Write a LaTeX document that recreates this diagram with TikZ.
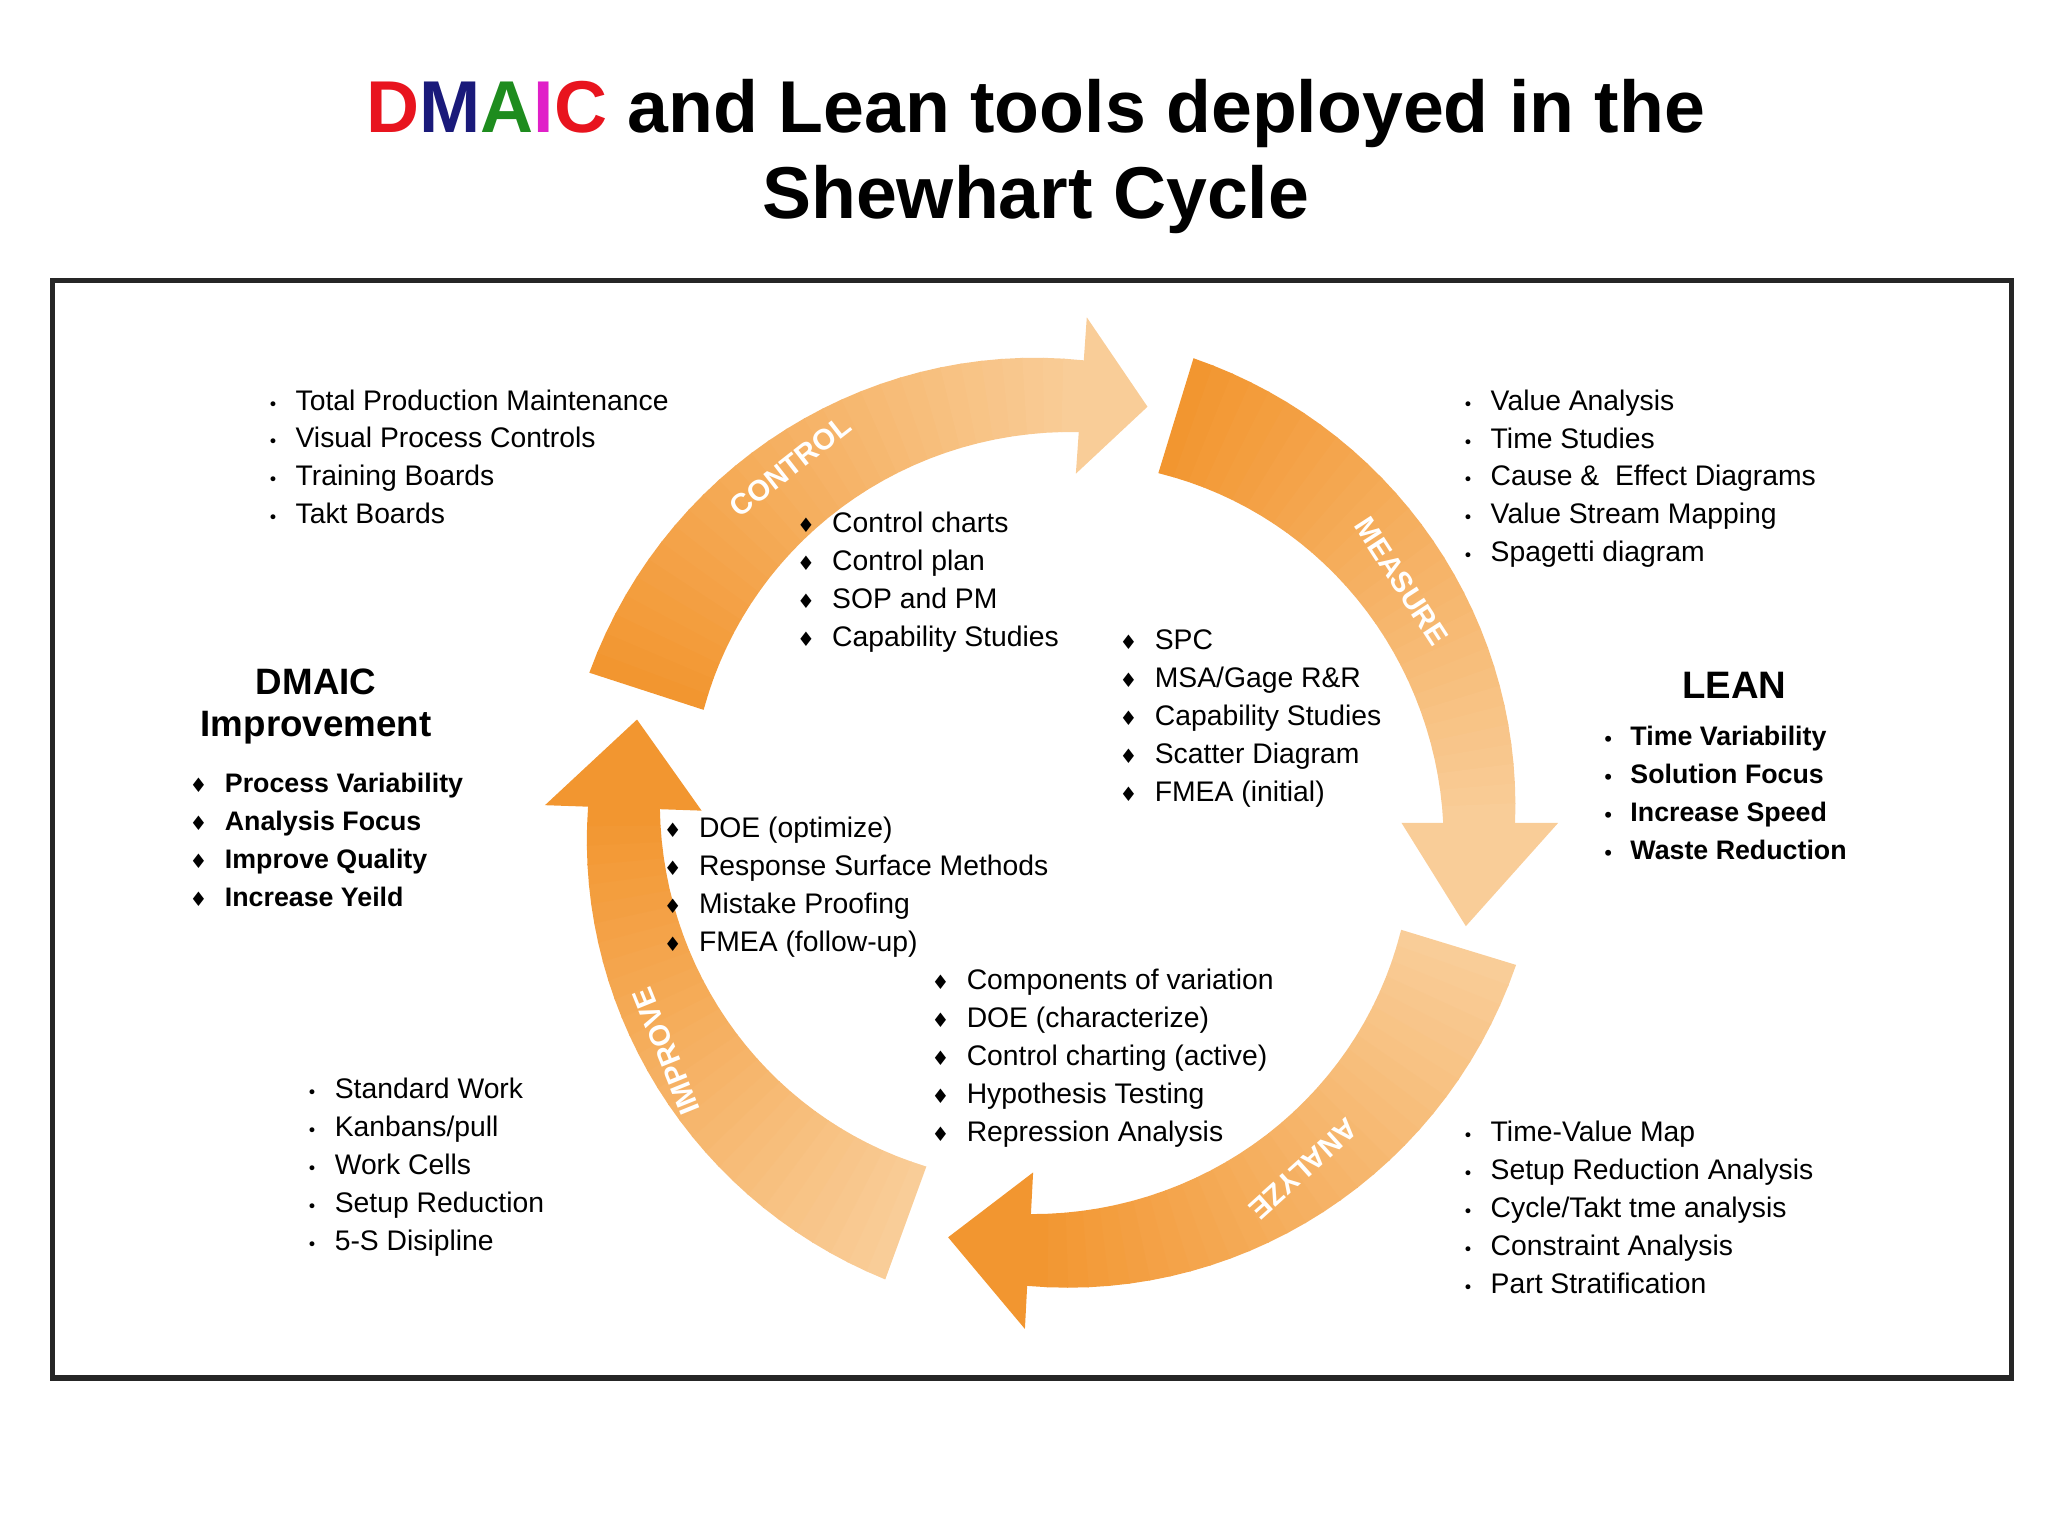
\documentclass[tikz,border=0pt]{standalone}
\usepackage{fontspec}
\setmainfont{Liberation Sans}
\newfontfamily\djv{DejaVu Sans}
\usetikzlibrary{calc}
\definecolor{odark}{HTML}{F29630}
\definecolor{olight}{HTML}{F9CD98}
\definecolor{tred}{HTML}{E8141E}
\definecolor{tnavy}{HTML}{1A1A7A}
\definecolor{tgreen}{HTML}{1E8C1E}
\definecolor{tmag}{HTML}{E020C8}
\newcommand{\Rm}{327}
% #1 start angle, #2 head base angle, #3 tip angle, #4 start mix(%olight), #5 end mix
\newcommand{\cycarrow}[5]{%
  \foreach \i in {0,...,29}{%
    \pgfmathsetmacro{\aa}{#1+(#2-#1)*\i/30}%
    \pgfmathsetmacro{\bb}{#1+(#2-#1)*(\i+1.05)/30}%
    \pgfmathsetmacro{\roa}{372-17*\i/30}%
    \pgfmathsetmacro{\rob}{372-17*(\i+1)/30}%
    \pgfmathsetmacro{\ria}{280+20*\i/30}%
    \pgfmathsetmacro{\rib}{280+20*(\i+1)/30}%
    \pgfmathsetmacro{\mm}{#4+(#5-#4)*\i/29}%
    \fill[olight!\mm!odark] ($(C)+(\aa:\roa)$) -- ($(C)+(\bb:\rob)$)
      -- ($(C)+(\bb:\rib)$) -- ($(C)+(\aa:\ria)$) -- cycle;
  }%
  \fill[olight!#5!odark] ($(C)+(#2:388)$) -- ($(C)+(#3:\Rm)$) -- ($(C)+(#2:268)$) -- cycle;
}
\tikzset{
  lst/.style={anchor=north west, inner sep=0pt, align=left, font=\fontsize{18.5}{24.8}\selectfont},
  lbl/.style={text=white, font=\bfseries\fontsize{19}{20}\selectfont},
}
\newcommand{\bu}{\makebox[18pt][l]{\djv\fontsize{11}{11}\selectfont•}}
\newcommand{\di}{\makebox[23pt][l]{\djv\fontsize{13}{13}\selectfont♦}}
\begin{document}
\begin{tikzpicture}[x=0.03cm,y=0.03cm]
\useasboundingbox (0,0) rectangle (1568,-1176);
\coordinate (C) at (805,-630);
\node[font=\bfseries\fontsize{48}{56}\selectfont, align=center] (title) at (793,-120)
 {{\color{tred}D}{\color{tnavy}M}{\color{tgreen}A}{\color{tmag}I}{\color{tred}C} and Lean tools deployed in the\\Shewhart Cycle};
\draw[line width=3.5pt, draw=black!85] (40,-215) rectangle (1540,-1055);
\cycarrow{162}{86}{77}{0}{100}
\cycarrow{73}{0}{-14}{0}{100}
\cycarrow{-17}{-93}{-104}{100}{0}
\cycarrow{-110}{-182}{-194}{100}{0}
\node[lbl, rotate=38] (lc) at (605,-357) {CONTROL};
\node[lbl, rotate=-57] (lm) at (1073,-445) {MEASURE};
\node[lbl, rotate=-138] (la) at (998,-895) {ANALYZE};
\node[lbl, rotate=112] (li) at (510,-805) {IMPROVE};
\node[lst] (tl) at (205,-298) {\bu Total Production Maintenance\\\bu Visual Process Controls\\\bu Training Boards\\\bu Takt Boards};
\node[lst] (ic) at (610,-392) {\di Control charts\\\di Control plan\\\di SOP and PM\\\di Capability Studies};
\node[lst] (tr) at (1120,-298) {\bu Value Analysis\\\bu Time Studies\\\bu Cause \&\ \ Effect Diagrams\\\bu Value Stream Mapping\\\bu Spagetti diagram};
\node[lst] (im) at (857,-482) {\di SPC\\\di MSA/Gage R\&R\\\di Capability Studies\\\di Scatter Diagram\\\di FMEA (initial)};
\node[font=\bfseries\fontsize{25}{30}\selectfont] (lean) at (1328,-525) {LEAN};
\node[lst, font=\bfseries\fontsize{17.5}{24.8}\selectfont] (ll) at (1227,-556) {\bu Time Variability\\\bu Solution Focus\\\bu Increase Speed\\\bu Waste Reduction};
\node[font=\bfseries\fontsize{24}{27}\selectfont, align=center] (dm) at (242,-541) {DMAIC\\Improvement};
\node[lst, font=\bfseries\fontsize{17.5}{24.8}\selectfont] (dl) at (145,-592) {\di Process Variability\\\di Analysis Focus\\\di Improve Quality\\\di Increase Yeild};
\node[lst] (ii) at (508,-625) {\di DOE (optimize)\\\di Response Surface Methods\\\di Mistake Proofing\\\di FMEA (follow-up)};
\node[lst] (ia) at (713,-742) {\di Components of variation\\\di DOE (characterize)\\\di Control charting (active)\\\di Hypothesis Testing\\\di Repression Analysis};
\node[lst] (bl) at (235,-825) {\bu Standard Work\\\bu Kanbans/pull\\\bu Work Cells\\\bu Setup Reduction\\\bu 5-S Disipline};
\node[lst] (br) at (1120,-858) {\bu Time-Value Map\\\bu Setup Reduction Analysis\\\bu Cycle/Takt tme analysis\\\bu Constraint Analysis\\\bu Part Stratification};
\end{tikzpicture}
\end{document}
